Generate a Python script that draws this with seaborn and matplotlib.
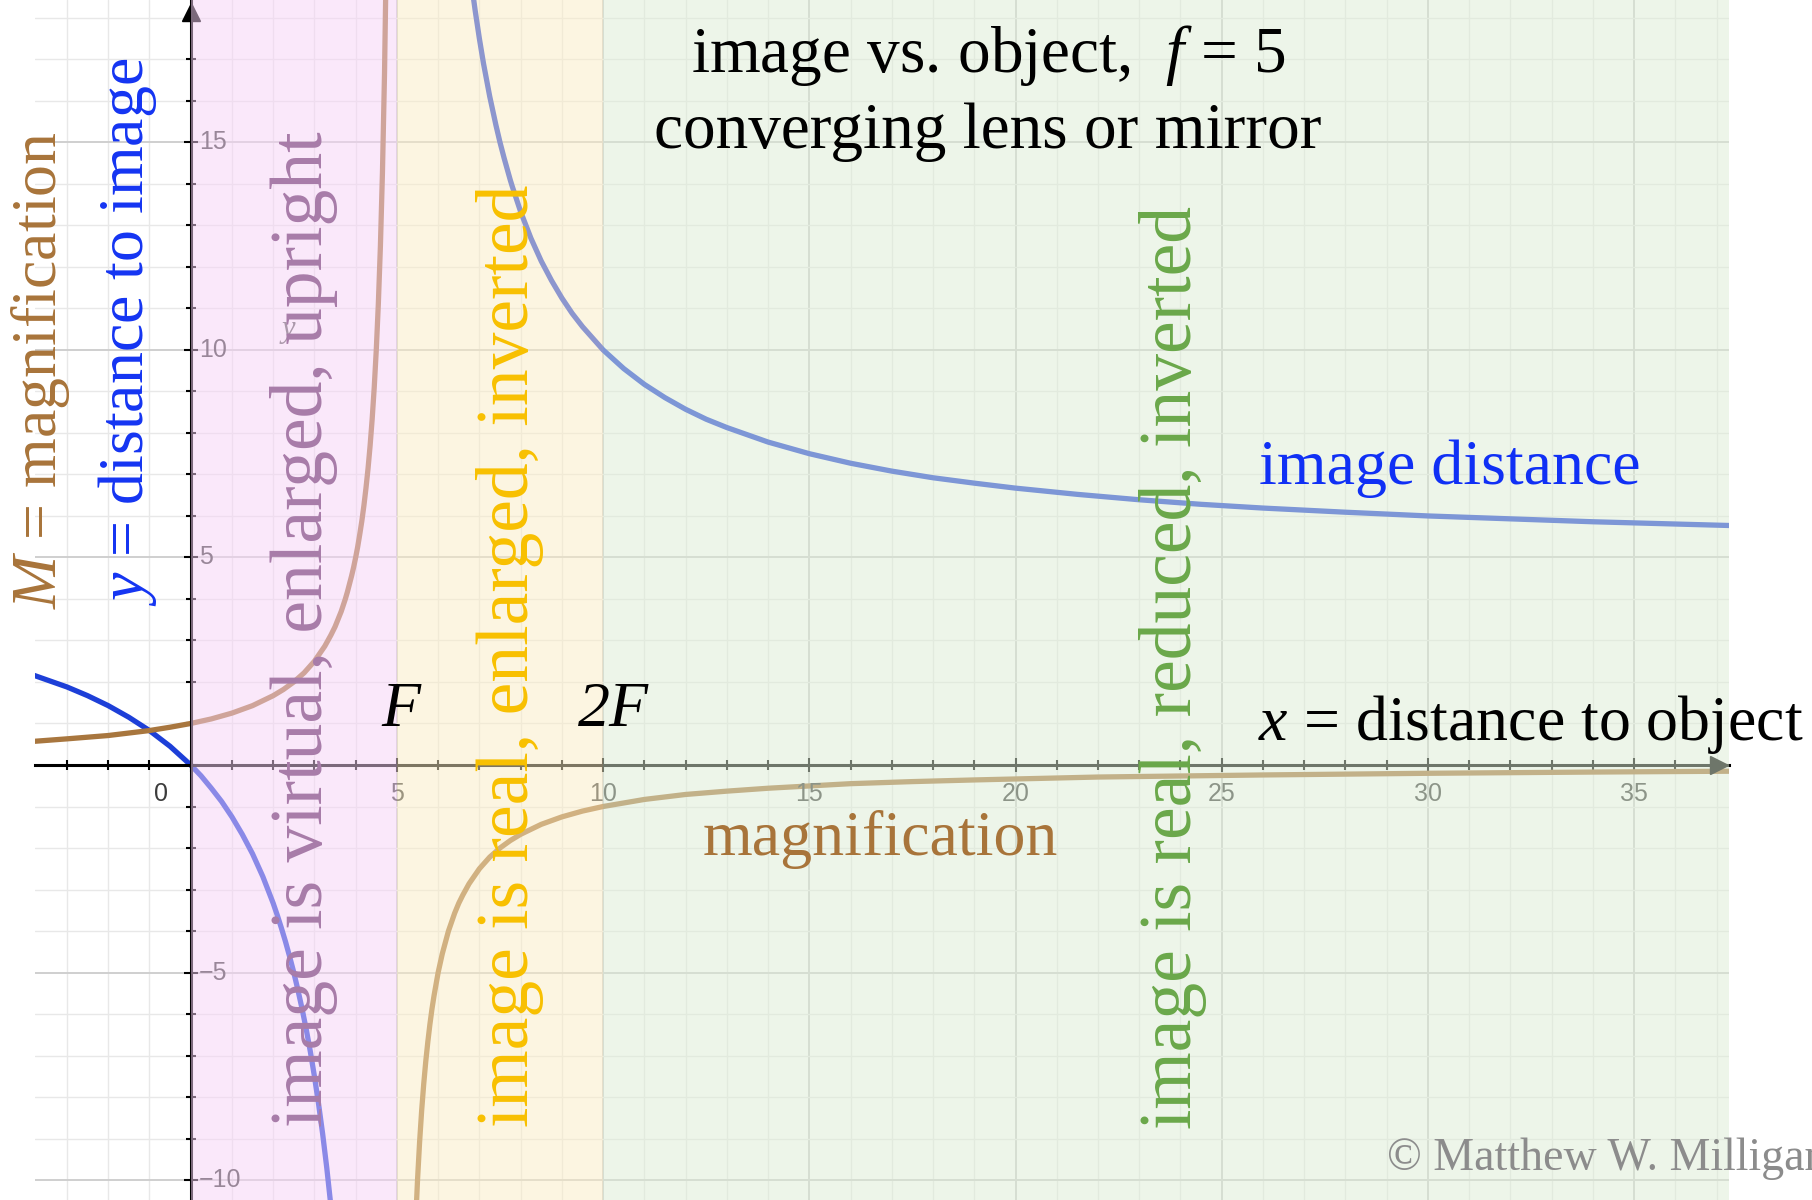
import pandas as pd
import seaborn as sns
import matplotlib.pyplot as plt
from matplotlib.ticker import MultipleLocator

# image distance y for f = 5
img_x_virtual = [-3.8, -3.4, -3.0, -2.5, -2.0, -1.5, -1.0, -0.5, 0.0, 0.25, 0.5, 0.75,
                 1.0, 1.25, 1.5, 1.75, 2.0, 2.1, 2.2, 2.3, 2.4, 2.5, 2.6, 2.7, 2.8, 2.9,
                 3.0, 3.1, 3.2, 3.3, 3.4]
img_y_virtual = [2.16, 2.02, 1.88, 1.67, 1.43, 1.15, 0.83, 0.45, 0.0, -0.26, -0.56,
                 -0.88, -1.25, -1.67, -2.14, -2.69, -3.33, -3.62, -3.93, -4.26, -4.62,
                 -5.00, -5.42, -5.87, -6.36, -6.90, -7.50, -8.16, -8.89, -9.71, -10.63]
img_x_real = [6.8, 6.9, 7.0, 7.1, 7.25, 7.4, 7.5, 7.6, 7.75, 7.8, 8.0, 8.25, 8.5, 8.75,
              9.0, 9.25, 9.5, 10.0, 10.5, 11.0, 11.5, 12.0, 12.5, 13.0, 14.0, 15.0, 16.0,
              17.0, 18.0, 19.0, 20.0, 21.5, 23.0, 24.5, 26.0, 28.0, 30.0, 32.0, 34.0, 37.3]
img_y_real = [18.89, 18.16, 17.50, 16.90, 16.11, 15.42, 15.00, 14.62, 14.09, 13.93,
              13.33, 12.69, 12.14, 11.67, 11.25, 10.88, 10.56, 10.00, 9.55, 9.17, 8.85,
              8.57, 8.33, 8.13, 7.78, 7.50, 7.27, 7.08, 6.92, 6.79, 6.67, 6.52, 6.39,
              6.28, 6.19, 6.09, 6.00, 5.93, 5.86, 5.77]

# magnification M
mag_x_virtual = [-3.8, -3.4, -3.0, -2.5, -2.0, -1.5, -1.0, -0.5, 0.0, 0.5, 1.0, 1.5, 2.0,
                 2.25, 2.5, 2.75, 3.0, 3.25, 3.4, 3.5, 3.65, 3.75, 3.8, 3.9, 3.95, 4.0,
                 4.05, 4.1, 4.15, 4.2, 4.25, 4.3, 4.35, 4.4, 4.45, 4.5, 4.55, 4.6, 4.65,
                 4.7, 4.75]
mag_y_virtual = [0.57, 0.60, 0.63, 0.67, 0.71, 0.77, 0.83, 0.91, 1.00, 1.11, 1.25, 1.43,
                 1.67, 1.82, 2.00, 2.22, 2.50, 2.86, 3.13, 3.33, 3.70, 4.00, 4.17, 4.55,
                 4.76, 5.00, 5.26, 5.56, 5.88, 6.25, 6.67, 7.14, 7.69, 8.33, 9.09, 10.00,
                 11.11, 12.50, 14.29, 16.67, 20.00]
mag_x_real = [5.45, 5.5, 5.55, 5.6, 5.65, 5.7, 5.75, 5.8, 5.85, 5.9, 6.0, 6.1, 6.25, 6.4,
              6.5, 6.6, 6.75, 7.0, 7.25, 7.5, 7.75, 8.0, 8.5, 9.0, 9.5, 10.0, 11.0, 12.0,
              13.0, 14.0, 16.0, 17.5, 19.0, 22.0, 26.0, 30.0, 34.0, 37.3]
mag_y_real = [-11.11, -10.00, -9.09, -8.33, -7.69, -7.14, -6.67, -6.25, -5.88, -5.56,
              -5.00, -4.55, -4.00, -3.57, -3.33, -3.13, -2.86, -2.50, -2.22, -2.00,
              -1.82, -1.67, -1.43, -1.25, -1.11, -1.00, -0.83, -0.71, -0.63, -0.56,
              -0.45, -0.40, -0.36, -0.29, -0.24, -0.20, -0.17, -0.15]

# shaded object-distance regions: 0-F, F-2F, beyond 2F
region_edges = [0, 5, 10, 37.3]
region_colors = ['#f7d3f7', '#fbedc5', '#ddedd5']

xtick_vals = [5, 10, 15, 20, 25, 30, 35]
ytick_vals = [-10, -5, 5, 10, 15]

sns.set_style('white')
plt.rcParams['font.family'] = ['Liberation Serif', 'DejaVu Serif']
plt.rcParams['text.color'] = 'black'
plt.rcParams['mathtext.fontset'] = 'custom'
plt.rcParams['mathtext.rm'] = 'Liberation Serif'
plt.rcParams['mathtext.it'] = 'Liberation Serif:italic'

fig = plt.figure(figsize=(18.12, 12), dpi=100)
ax = fig.add_axes([34.8 / 1812, 0.0, (1729 - 34.8) / 1812, 1.0])
ax.set_xlim(-3.78, 37.3)
ax.set_ylim(-10.48, 18.43)

# graph paper
ax.set_axisbelow(True)
ax.xaxis.set_major_locator(MultipleLocator(5))
ax.xaxis.set_minor_locator(MultipleLocator(1))
ax.yaxis.set_major_locator(MultipleLocator(5))
ax.yaxis.set_minor_locator(MultipleLocator(1))
ax.grid(which='major', color='#cfcfcf', lw=1.4)
ax.grid(which='minor', color='#e8e8e8', lw=1.0)

for side in ['top', 'right']:
    ax.spines[side].set_visible(False)
for side in ['left', 'bottom']:
    ax.spines[side].set_position(('data', 0))
    ax.spines[side].set_color('black')
    ax.spines[side].set_linewidth(2.2)
ax.tick_params(which='both', direction='inout', color='black', width=1.5,
               labelbottom=False, labelleft=False, bottom=True, left=True)
ax.tick_params(which='major', length=10)
ax.tick_params(which='minor', length=7)
ax.plot(0.994, 0, '>', color='black', ms=13, transform=ax.get_yaxis_transform(),
        clip_on=False, zorder=2.5)
ax.plot(0, 0.99, '^', color='black', ms=13, transform=ax.get_xaxis_transform(),
        clip_on=False, zorder=2.5)

# tick numbers, desmos style
tick_font = dict(family='Liberation Sans', fontsize=18, color='#3c3c3c', zorder=2.6)
ax.text(-0.73, -0.7, '0', ha='center', va='center', **tick_font)
for v in xtick_vals:
    ax.text(v, -0.7, str(v), ha='center', va='center', **tick_font)
for v in ytick_vals:
    ax.text(0.2, v, str(v).replace('-', '\u2212'), ha='left', va='center', **tick_font)
ax.text(2.2, 10.3, 'y', fontsize=22, style='italic', color='#606060', zorder=2.6)

# curves
blue = '#1d3fd8'
brown = '#a8763e'
for xs, ys, c in [(img_x_virtual, img_y_virtual, blue), (img_x_real, img_y_real, blue),
                  (mag_x_virtual, mag_y_virtual, brown), (mag_x_real, mag_y_real, brown)]:
    df = pd.DataFrame({'x': xs, 'y': ys})
    sns.lineplot(data=df, x='x', y='y', color=c, lw=3.8, sort=False, ax=ax, zorder=2)
ax.set_xlabel('')
ax.set_ylabel('')

# translucent region washes laid over the curves
for lo, hi, c in zip(region_edges[:-1], region_edges[1:], region_colors):
    ax.axvspan(lo, hi, color=c, alpha=0.5, lw=0, zorder=3)

# annotations
big = 46
ax.text(19.33, 16.7, 'image vs. object,  $f$ = 5', ha='center', va='baseline',
        fontsize=47, zorder=5)
ax.text(19.33, 14.87, 'converging lens or mirror', ha='center', va='baseline',
        fontsize=47, zorder=5)
ax.text(-3.64, 9.52, '$M$ = magnification', rotation=90, ha='center', va='center',
        fontsize=big, color='#a8743a', zorder=5, clip_on=False)
ax.text(-1.54, 10.43, '$y$ = distance to image', rotation=90, ha='center', va='center',
        fontsize=big, color='#1434f2', zorder=5)
ax.text(2.75, 3.26, 'image is virtual, enlarged, upright', rotation=90, ha='center',
        va='center', fontsize=53, color='#a87ca9', zorder=5)
ax.text(7.74, 2.63, 'image is real, enlarged, inverted', rotation=90, ha='center',
        va='center', fontsize=53, color='#f8c000', zorder=5)
ax.text(23.81, 2.36, 'image is real, reduced, inverted', rotation=90, ha='center',
        va='center', fontsize=53, color='#6aa84a', zorder=5)
ax.text(4.63, 0.95, 'F', style='italic', ha='left', va='baseline', fontsize=big, zorder=5)
ax.text(9.38, 0.95, '2F', style='italic', ha='left', va='baseline', fontsize=big, zorder=5)
ax.text(39.1, 0.61, '$x$ = distance to object', ha='right', va='baseline', fontsize=big,
        zorder=5, clip_on=False)
ax.text(25.91, 6.77, 'image distance', ha='left', va='baseline', fontsize=big,
        color='#1030f5', zorder=5)
ax.text(16.71, -2.17, 'magnification', ha='center', va='baseline', fontsize=big,
        color='#a8743a', zorder=5)
ax.text(29.0, -9.76, '\u00a9 Matthew W. Milligan', ha='left', va='baseline', fontsize=33,
        color='#8c8c8c', zorder=5, clip_on=False)

fig.savefig('out.png', dpi=100)
